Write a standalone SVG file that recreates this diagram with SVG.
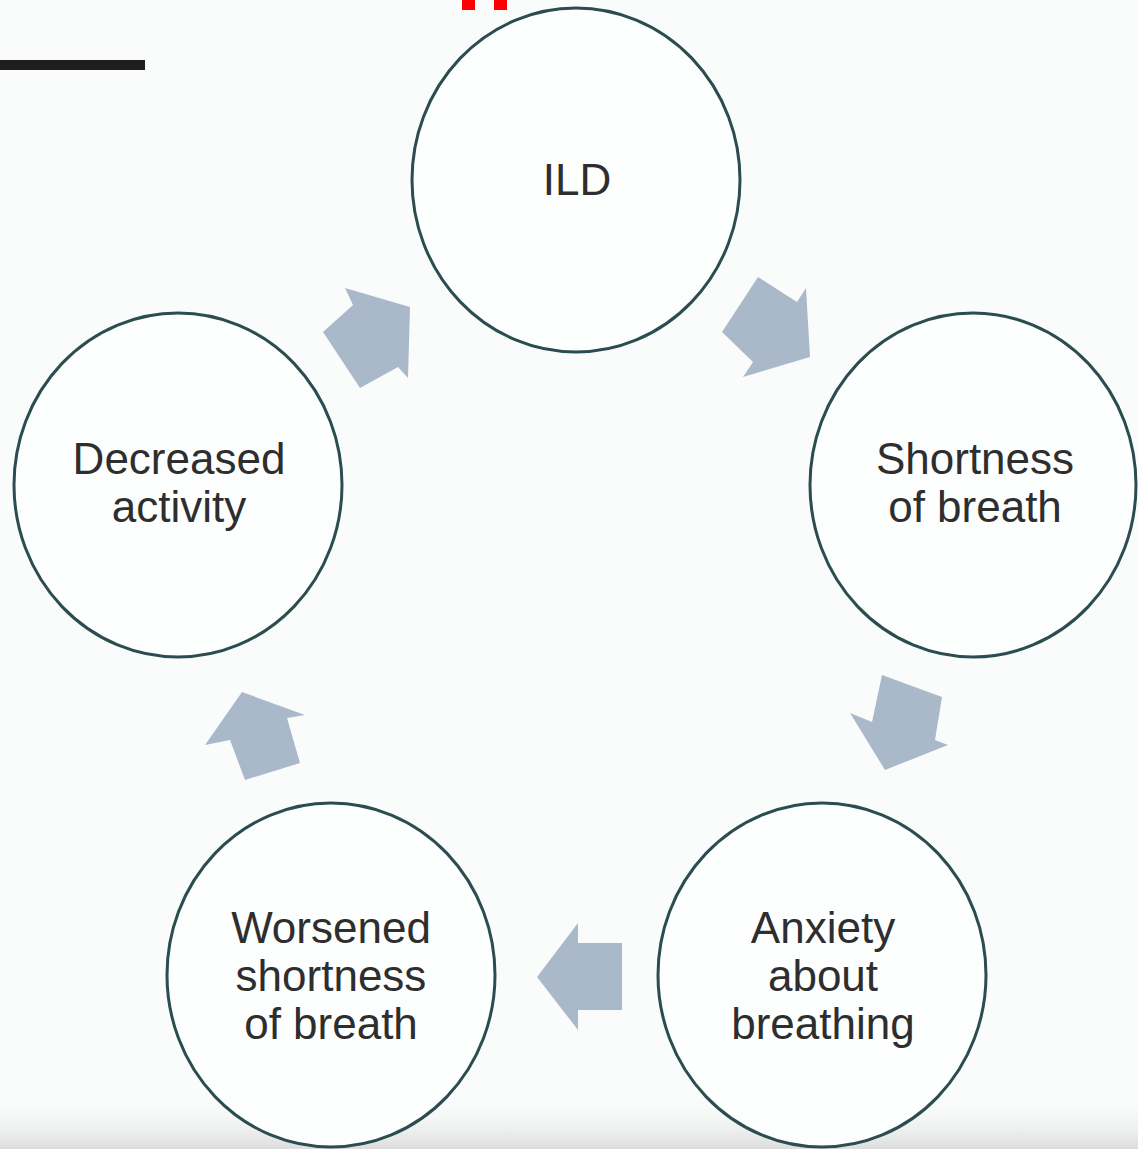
<svg xmlns="http://www.w3.org/2000/svg" width="1138" height="1149" viewBox="0 0 1138 1149">
<defs>
<linearGradient id="bottomfade" x1="0" y1="0" x2="0" y2="1">
<stop offset="0" stop-color="#fafcfc" stop-opacity="0"/>
<stop offset="1" stop-color="#dcdcdc"/>
</linearGradient>
<style>
.node ellipse{fill:#fdfefe;stroke:#2b4d4f;stroke-width:3}
.node text{font-family:"Liberation Sans",Arial,sans-serif;font-size:44px;fill:#2e2e2e;text-anchor:middle}
.arrow{fill:#aab9c9}
</style>
</defs>
<rect x="0" y="0" width="1138" height="1149" fill="#fafcfc"/>
<rect x="0" y="1095" width="1138" height="54" fill="url(#bottomfade)"/>
<rect x="0" y="60" width="145" height="10" fill="#1e1e1e"/>
<rect x="462" y="0" width="13" height="10" fill="#ff0000"/>
<rect x="494" y="0" width="13" height="10" fill="#ff0000"/>

<g id="connectors">
<polygon class="arrow" points="758,277 797,302 806,288 810,357 743,377 753,362 722,332"/>
<polygon class="arrow" points="882,675 942,697 935,740 948,745 885,770 850,713 872,722"/>
<polygon class="arrow" points="622,943 622,1010 578,1010 578,1030 537,977 578,923 578,943"/>
<polygon class="arrow" points="242,692 305,715 287,718 300,763 245,780 230,740 205,745"/>
<polygon class="arrow" points="345,288 410,307 408,378 398,367 360,388 323,332 353,305"/>
</g>

<g id="node-ild" class="node">
<ellipse cx="576" cy="180" rx="164" ry="172"/>
<text x="577" y="195">ILD</text>
</g>
<g id="node-shortness" class="node">
<ellipse cx="973" cy="485" rx="163" ry="172"/>
<text x="975" y="474">Shortness</text>
<text x="975" y="522">of breath</text>
</g>
<g id="node-anxiety" class="node">
<ellipse cx="822" cy="975" rx="164" ry="172"/>
<text x="823" y="943">Anxiety</text>
<text x="823" y="991">about</text>
<text x="823" y="1039">breathing</text>
</g>
<g id="node-worsened" class="node">
<ellipse cx="331" cy="975" rx="164" ry="172"/>
<text x="331" y="943">Worsened</text>
<text x="331" y="991">shortness</text>
<text x="331" y="1039">of breath</text>
</g>
<g id="node-decreased" class="node">
<ellipse cx="178" cy="485" rx="164" ry="172"/>
<text x="179" y="474">Decreased</text>
<text x="179" y="522">activity</text>
</g>
</svg>
